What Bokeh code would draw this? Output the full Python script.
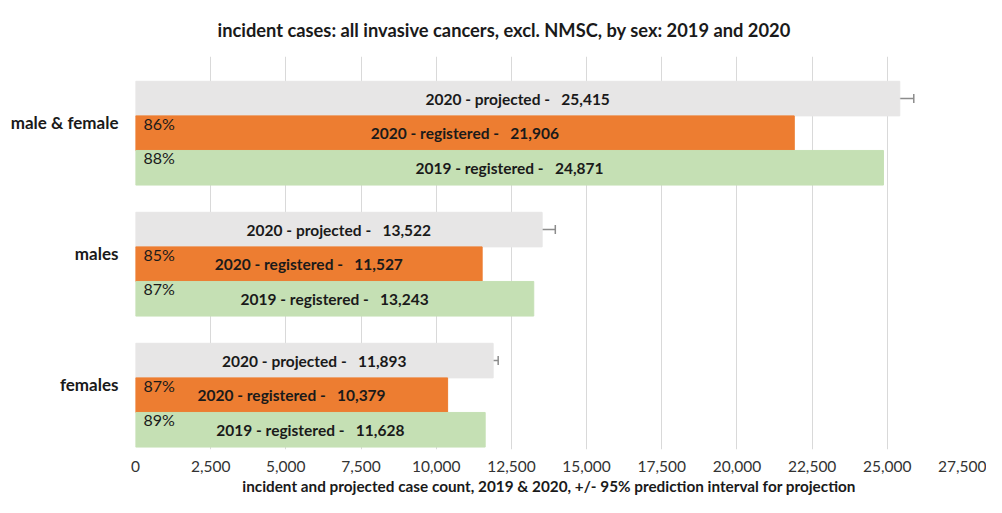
from bokeh.plotting import figure
from bokeh.models import (ColumnDataSource, Range1d, FixedTicker, NumeralTickFormatter,
                          Whisker, TeeHead)
from bokeh.core.properties import value
from bokeh.embed import file_html
from bokeh.resources import INLINE

# ---- data ----
categories = ["male & female", "males", "females"]
projected_2020 = [25415, 13522, 11893]
proj_lower = [24950, 13060, 11700]
proj_upper = [25880, 13960, 12060]
registered_2020 = [21906, 11527, 10379]
registered_2019 = [24871, 13243, 11628]
pct_2020 = ["86%", "85%", "87%"]
pct_2019 = ["88%", "87%", "89%"]
x_ticks = [0, 2500, 5000, 7500, 10000, 12500, 15000, 17500, 20000, 22500, 25000, 27500]

FONT = "Lato"
GRAY = "#e7e6e6"
ORANGE = "#ed7d31"
GREEN = "#c5e0b4"
TXT = "#1a1a1a"

BAR_H = 0.264
SHIFT = 0.0853
idx = list(range(len(categories)))
y_proj = [i + SHIFT - BAR_H for i in idx]
y_r20 = [i + SHIFT for i in idx]
y_r19 = [i + SHIFT + BAR_H for i in idx]

sp = "\u00a0\u00a0\u00a0"
lab_proj = [f"2020 - projected -{sp}{v:,}" for v in projected_2020]
lab_r20 = [f"2020 - registered -{sp}{v:,}" for v in registered_2020]
lab_r19 = [f"2019 - registered -{sp}{v:,}" for v in registered_2019]

src_p = ColumnDataSource(dict(y=y_proj, v=projected_2020, h=[v / 2 for v in projected_2020],
                              lab=lab_proj, lo=proj_lower, up=proj_upper))
src_a = ColumnDataSource(dict(y=y_r20, v=registered_2020, h=[v / 2 for v in registered_2020],
                              lab=lab_r20, pct=pct_2020, top=[y - BAR_H / 2 for y in y_r20],
                              zero=[0] * 3))
src_b = ColumnDataSource(dict(y=y_r19, v=registered_2019, h=[v / 2 for v in registered_2019],
                              lab=lab_r19, pct=pct_2019, top=[y - BAR_H / 2 for y in y_r19],
                              zero=[0] * 3))

p = figure(width=986, height=497, output_backend="svg", toolbar_location=None,
           x_range=Range1d(0, 27500), y_range=Range1d(2.5, -0.5),
           min_border_left=135, min_border_right=24, min_border_top=56, min_border_bottom=47,
           title="incident cases: all invasive cancers, excl. NMSC, by sex: 2019 and 2020")
p.outline_line_color = None
p.background_fill_color = "white"
p.border_fill_color = "white"

p.title.align = "left"
p.title.offset = 82
p.title.text_font = FONT
p.title.text_font_size = "18.3px"
p.title.text_font_style = "bold"
p.title.text_color = TXT
p.title.standoff = 32

p.hbar(y="y", right="v", left=0, height=BAR_H, source=src_p, color=GRAY)
p.hbar(y="y", right="v", left=0, height=BAR_H, source=src_a, color=ORANGE)
p.hbar(y="y", right="v", left=0, height=BAR_H, source=src_b, color=GREEN)

p.add_layout(Whisker(base="y", lower="lo", upper="up", dimension="width", source=src_p,
                     line_color="#8c8c8c", line_width=1.5,
                     upper_head=TeeHead(size=9, line_color="#8c8c8c", line_width=1.5),
                     lower_head=TeeHead(size=9, line_color="#8c8c8c", line_width=1.5)))

for src in (src_p, src_a, src_b):
    p.text(x="h", y="y", text="lab", source=src, text_align="center", text_baseline="middle",
           text_font=value(FONT), text_font_size="15.5px", text_font_style="bold", text_color=TXT)
for src in (src_a, src_b):
    p.text(x="zero", y="top", text="pct", source=src, x_offset=8, y_offset=-2,
           text_align="left", text_baseline="top",
           text_font=value(FONT), text_font_size="16px", text_color=TXT)

p.xgrid.grid_line_color = "#d9d9d9"
p.xgrid.ticker = FixedTicker(ticks=x_ticks)
p.ygrid.grid_line_color = None

xa = p.xaxis[0]
xa.ticker = FixedTicker(ticks=x_ticks)
xa.formatter = NumeralTickFormatter(format="0,0")
xa.axis_line_color = None
xa.major_tick_line_color = None
xa.minor_tick_line_color = None
xa.major_tick_out = 0
xa.major_tick_in = 0
xa.major_label_standoff = 11
xa.major_label_text_font = FONT
xa.major_label_text_font_size = "15.5px"
xa.major_label_text_color = "#333333"
xa.axis_label = "incident and projected case count, 2019 & 2020, +/- 95% prediction interval for projection"
xa.axis_label_text_font = FONT
xa.axis_label_text_font_size = "15.3px"
xa.axis_label_text_font_style = "bold"
xa.axis_label_text_color = TXT
xa.axis_label_standoff = 2

ya = p.yaxis[0]
ya.ticker = FixedTicker(ticks=idx)
ya.major_label_overrides = {i: c for i, c in zip(idx, categories)}
ya.axis_line_color = None
ya.major_tick_line_color = None
ya.minor_tick_line_color = None
ya.major_tick_out = 0
ya.major_tick_in = 0
ya.major_label_standoff = 17
ya.major_label_text_font = FONT
ya.major_label_text_font_size = "17px"
ya.major_label_text_font_style = "bold"
ya.major_label_text_color = TXT

open("out.html", "w").write(file_html(p, INLINE))
